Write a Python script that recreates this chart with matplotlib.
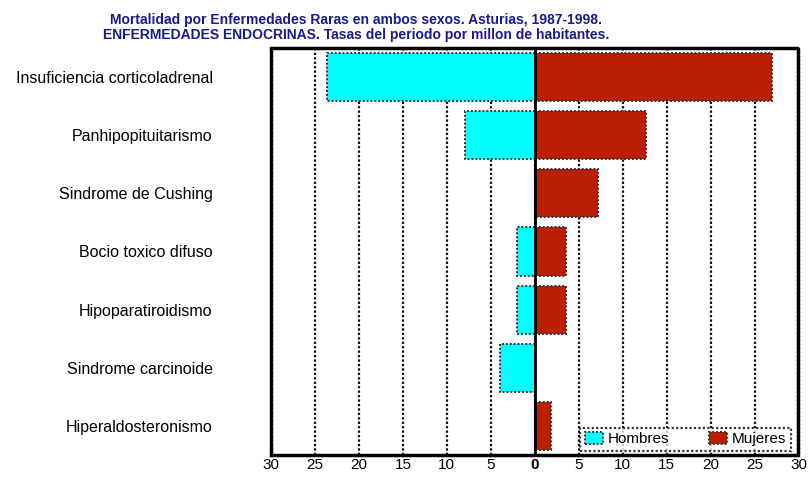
import numpy as np
import matplotlib.pyplot as plt

plt.rcParams['font.family'] = ['Liberation Sans', 'DejaVu Sans']

#Data
categorias = ["Insuficiencia corticoladrenal", "Panhipopituitarismo", "Sindrome de Cushing",
              "Bocio toxico difuso", "Hipoparatiroidismo", "Sindrome carcinoide",
              "Hiperaldosteronismo"]
hombres = [23.6, 7.9, 0.0, 2.0, 2.0, 4.0, 0.0]
mujeres = [27.0, 12.6, 7.2, 3.6, 3.6, 0.0, 1.8]
xticks = [-30, -25, -20, -15, -10, -5, 0, 5, 10, 15, 20, 25, 30]
xticklabels = ["30", "25", "20", "15", "10", "5", "0", "5", "10", "15", "20", "25", "30"]

titulo = ("Mortalidad por Enfermedades Raras en ambos sexos. Asturias, 1987-1998.\n"
          "ENFERMEDADES ENDOCRINAS. Tasas del periodo por millon de habitantes.")

cyan = "#00FFFF"
rojo = "#BB1E00"
dotted = (0, (1, 1))

fig = plt.figure(figsize=(8.09, 4.79), dpi=100)
ax = fig.add_axes([0.335, 0.05, 0.652, 0.85])

y = np.arange(len(categorias))
ax.barh(y, -np.array(hombres), height=0.83, color=cyan, edgecolor="#333333",
        linewidth=1.4, linestyle=dotted, label="Hombres", zorder=2)
ax.barh(y, mujeres, height=0.83, color=rojo, edgecolor="#333333",
        linewidth=1.4, linestyle=dotted, label="Mujeres", zorder=2)

ax.axvline(0, color="black", linewidth=2, zorder=3)

ax.set_xlim(-30, 30)
ax.set_ylim(len(categorias) - 0.5, -0.5)
ax.set_yticks(y)
ax.set_yticklabels(categorias, fontsize=11.5)
ax.tick_params(axis="y", length=0, pad=42)
ax.set_xticks(xticks)
ax.set_xticklabels(xticklabels, fontsize=11)
ax.get_xticklabels()[6].set_fontweight("bold")
ax.tick_params(axis="x", length=0, pad=2)

#Vertical grid
ax.set_axisbelow(True)
ax.xaxis.grid(True, color="black", linestyle=dotted, linewidth=1.6)

for s in ax.spines.values():
    s.set_linestyle((0, (0.6, 0.6)))
    s.set_linewidth(2.4)

fig.text(0.44, 0.913, titulo, ha="center", va="bottom", fontsize=10,
         fontweight="bold", color="#1A1A8C", linespacing=1.1)

leg = ax.legend(loc="lower right", bbox_to_anchor=(0.985, 0.01), ncol=2,
                fontsize=11, frameon=True, fancybox=False, edgecolor="black",
                handlelength=1.2, handleheight=0.8, handletextpad=0.3,
                columnspacing=2.6, borderpad=0.3, borderaxespad=0)
leg.get_frame().set_linestyle(dotted)
leg.get_frame().set_linewidth(1.6)

plt.savefig("out.png", dpi=100)
